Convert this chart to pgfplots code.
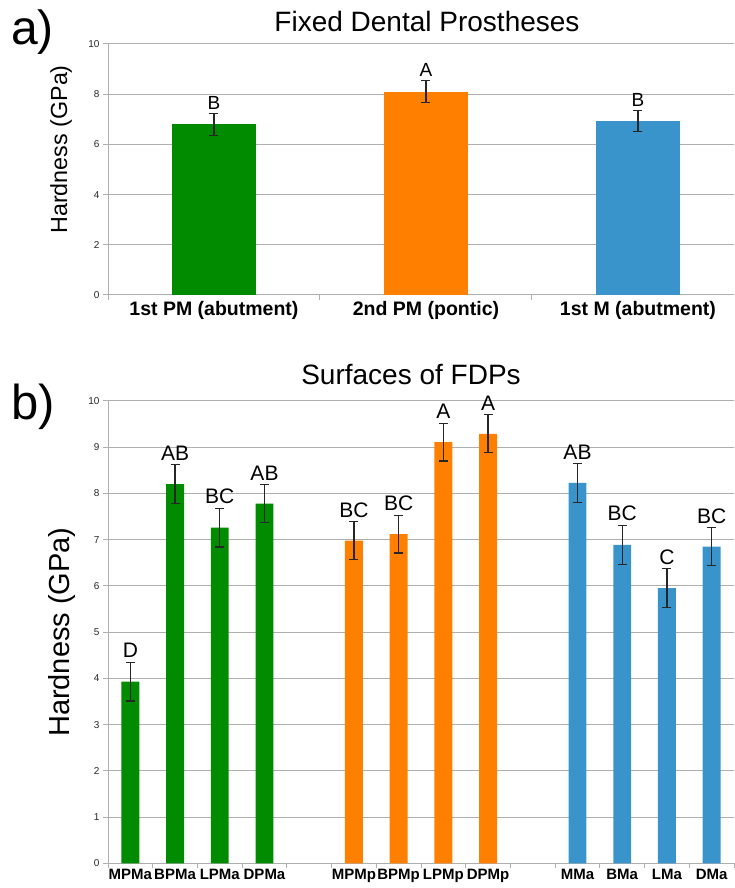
\documentclass[border=0pt]{standalone}
\usepackage{pgfplots}
\pgfplotsset{compat=1.18}
\usepackage{fontspec}
\setmainfont{Liberation Sans}
\definecolor{cgreen}{RGB}{0,139,0}
\definecolor{corange}{RGB}{255,127,0}
\definecolor{cblue}{RGB}{58,148,204}
\definecolor{gridgray}{RGB}{175,175,175}
\begin{document}
\begin{tikzpicture}[x=1pt,y=1pt]
\path[use as bounding box] (0pt,0pt) rectangle (734pt,888pt);
\pgfplotsset{
  hardax/.style={
    scale only axis, width=626pt, anchor=south west,
    ymin=0, ymax=10, xmin=-0.5,
    axis x line*=bottom, axis y line*=left,
    axis line style={gridgray, line width=1pt},
    ymajorgrids, grid style={gridgray, line width=1pt},
    tick align=outside, major tick length=5pt,
    tick style={gridgray, line width=1pt},
    yticklabel style={font=\fontsize{10}{10}\selectfont, text=black!85},
    /pgf/number format/assume math mode=true,
    xticklabels={},
    clip=false,
    every axis y label/.style={rotate=90, anchor=center},
  },
  errs/.style={error bars/.cd, y dir=both, y explicit,
    error bar style={line width=1.2pt, black!85},
    error mark options={rotate=90, mark size=4.5pt, line width=1.2pt, black!85}},
  letters/.style={only marks, mark=*, mark size=0pt, mark options={draw=none, fill=none},
    nodes near coords, point meta=explicit symbolic,
    nodes near coords style={anchor=south, inner sep=0pt, yshift=4pt, text=black, font=#1}},
}
% ---------- panel a
\begin{axis}[hardax, at={(108pt,593pt)}, height=251pt, xmax=2.453,
  ytick={0,2,...,10}, xtick={-0.5,0.5,1.5},
  extra x ticks={0,1,2},
  extra x tick labels={1st PM (abutment),2nd PM (pontic),1st M (abutment)},
  extra x tick style={major tick length=0pt, xticklabel style={anchor=north, inner sep=0pt, yshift=-6pt, font=\bfseries\fontsize{19.5}{19.5}\selectfont, text=black}},
  ylabel={Hardness (GPa)},
  ylabel style={at={(axis description cs:-0.075,0.58)}, font=\fontsize{23.3}{23.3}\selectfont},
]
\addplot[ybar, bar width=0.4, bar shift=0pt, fill=cgreen, draw=none, errs] coordinates {(0,6.8) +- (0,0.43)};
\addplot[ybar, bar width=0.4, bar shift=0pt, fill=corange, draw=none, errs] coordinates {(1,8.1) +- (0,0.43)};
\addplot[ybar, bar width=0.4, bar shift=0pt, fill=cblue, draw=none, errs] coordinates {(2,6.94) +- (0,0.42)};
\addplot[letters={\fontsize{19}{19}\selectfont}] coordinates {(0,7.23)[B] (1,8.53)[A] (2,7.36)[B]};
\end{axis}
% ---------- panel b
\begin{axis}[hardax, at={(108pt,24.7pt)}, height=462.3pt, xmax=13.5,
  ytick={0,1,...,10}, xtick={-0.5,0.5,...,13.5},
  extra x ticks={0,1,2,3,5,6,7,8,10,11,12,13},
  extra x tick labels={MPMa,BPMa,LPMa,DPMa,MPMp,BPMp,LPMp,DPMp,MMa,BMa,LMa,DMa},
  extra x tick style={major tick length=0pt, xticklabel style={anchor=north, inner sep=0pt, yshift=-6pt, font=\bfseries\fontsize{15}{15}\selectfont, text=black}},
  ylabel={Hardness (GPa)},
  ylabel style={at={(axis description cs:-0.073,0.5)}, font=\fontsize{29}{29}\selectfont},
]
\addplot[ybar, bar width=0.4, bar shift=0pt, fill=cgreen, draw=none, errs] coordinates {
 (0,3.93) +- (0,0.42) (1,8.20) +- (0,0.42) (2,7.26) +- (0,0.42) (3,7.78) +- (0,0.41)};
\addplot[ybar, bar width=0.4, bar shift=0pt, fill=corange, draw=none, errs] coordinates {
 (5,6.98) +- (0,0.41) (6,7.12) +- (0,0.41) (7,9.11) +- (0,0.41) (8,9.29) +- (0,0.41)};
\addplot[ybar, bar width=0.4, bar shift=0pt, fill=cblue, draw=none, errs] coordinates {
 (10,8.23) +- (0,0.42) (11,6.89) +- (0,0.42) (12,5.95) +- (0,0.42) (13,6.85) +- (0,0.41)};
\addplot[letters={\fontsize{21}{21}\selectfont}] coordinates {
 (0,4.35)[D] (1,8.62)[AB] (2,7.68)[BC] (3,8.19)[AB]
 (5,7.39)[BC] (6,7.53)[BC] (7,9.52)[A] (8,9.70)[A]
 (10,8.65)[AB] (11,7.31)[BC] (12,6.37)[C] (13,7.26)[BC]};
\end{axis}
% ---------- titles and panel letters
\node[anchor=base, inner sep=0pt, font=\fontsize{28}{28}\selectfont] at (427pt,856pt) {Fixed Dental Prostheses};
\node[anchor=base, inner sep=0pt, font=\fontsize{28}{28}\selectfont] at (411pt,503pt) {Surfaces of FDPs};
\node[anchor=base west, inner sep=0pt, font=\fontsize{48}{48}\selectfont] at (11pt,843pt) {a)};
\node[anchor=base west, inner sep=0pt, font=\fontsize{49}{49}\selectfont] at (11pt,468pt) {b)};
\end{tikzpicture}
\end{document}
